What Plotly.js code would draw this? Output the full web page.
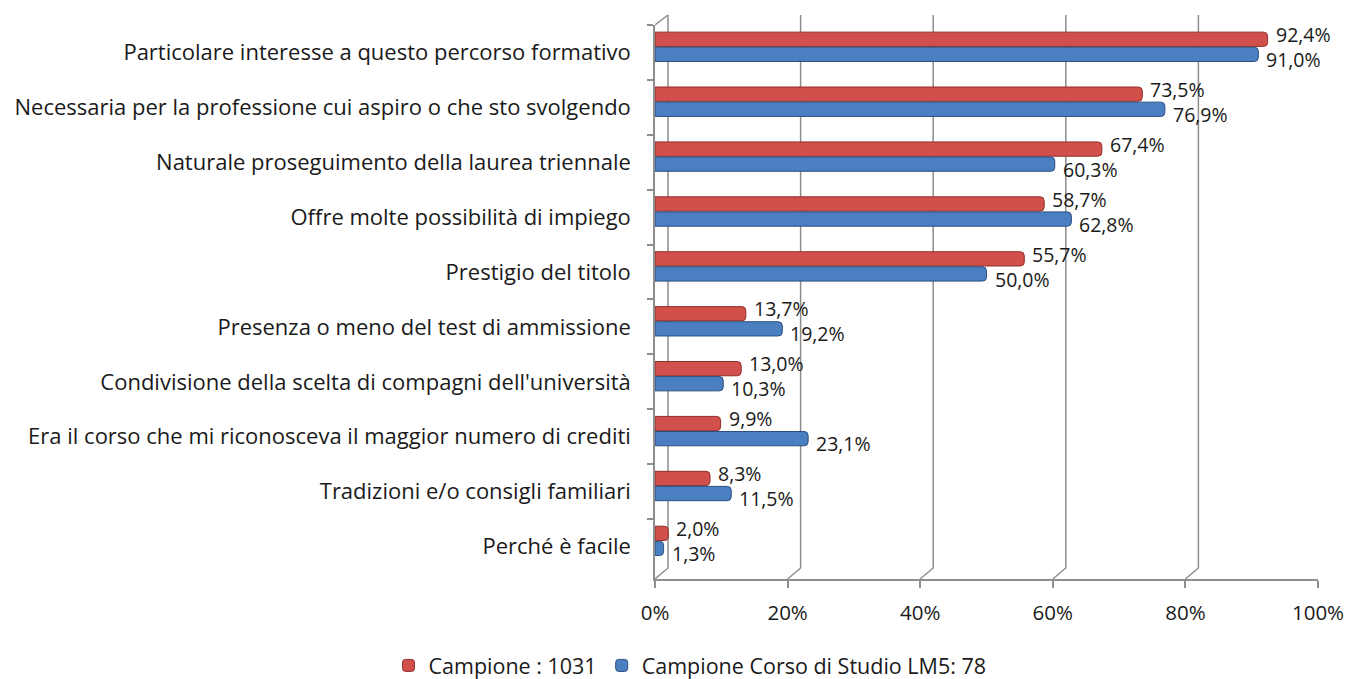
<!DOCTYPE html>
<html>
<head>
<meta charset="utf-8">
<script src="https://cdn.plot.ly/plotly-3.0.1.min.js"></script>
<style>
  html, body { margin: 0; padding: 0; background: #fff; }
  #chart { width: 1346px; height: 679px; }
</style>
</head>
<body>
<div id="chart"></div>
<script>
/* Motivazioni della scelta — barre orizzontali, due campioni */

const categories = [
  'Particolare interesse a questo percorso formativo',
  'Necessaria per la professione cui aspiro o che sto svolgendo',
  'Naturale proseguimento della laurea triennale',
  'Offre molte possibilità di impiego',
  'Prestigio del titolo',
  'Presenza o meno del test di ammissione',
  "Condivisione della scelta di compagni dell'università",
  'Era il corso che mi riconosceva il maggior numero di crediti',
  'Tradizioni e/o consigli familiari',
  'Perché è facile',
];

const campioneTotale = [92.4, 73.5, 67.4, 58.7, 55.7, 13.7, 13.0, 9.9, 8.3, 2.0];
const campioneLM5    = [91.0, 76.9, 60.3, 62.8, 50.0, 19.2, 10.3, 23.1, 11.5, 1.3];

const seriesNames = ['Campione : 1031', 'Campione Corso di Studio LM5: 78'];
const xTicks = [0, 20, 40, 60, 80, 100];
const xTickText = xTicks.map(t => t + '%');

const FONT = "'Open Sans', sans-serif";
const FS = 22;
const GRID = '#8e8e8e';
const TXT = '#1a1a1a';

const pct = v => v.toFixed(1).replace('.', ',') + '%';

const barTrace = (name, values, color, edge, offset) => ({
  type: 'bar',
  orientation: 'h',
  name,
  x: values,
  y: categories,
  width: 0.26,
  offset,
  marker: { color, line: { color: edge, width: 1 }, cornerradius: 4 },
  hoverinfo: 'skip',
});

const traces = [
  barTrace(seriesNames[0], campioneTotale, '#d2504c', '#8f2f2c', -0.37),
  barTrace(seriesNames[1], campioneLM5, '#4a7fc1', '#2c4f80', -0.095),
];

// etichette dei valori: rosse sopra, blu sotto
const valueLabels = (values, yshift) => values.map((v, i) => ({
  x: v, y: categories[i],
  xref: 'x', yref: 'y',
  text: pct(v),
  showarrow: false,
  xanchor: 'left', yanchor: 'middle',
  xshift: 7, yshift,
  borderpad: 0,
  font: { family: FONT, size: 19.5, color: TXT },
}));

// pareti "3D": linee di griglia sul fondo, con raccordo al pavimento
const gridShapes = xTicks.map(t => ({
  type: 'path',
  xref: 'x', xsizemode: 'pixel', xanchor: t,
  yref: 'paper', ysizemode: 'pixel', yanchor: 0,
  path: 'M0,0 L13,11 L13,564',
  line: { color: GRID, width: 1.5 },
  layer: 'below',
}));
gridShapes.push({
  type: 'path',
  xref: 'x', xsizemode: 'pixel', xanchor: xTicks[0],
  yref: 'paper', ysizemode: 'pixel', yanchor: 1,
  path: 'M0,0 L13,10',
  line: { color: GRID, width: 1.5 },
  layer: 'below',
});

Plotly.newPlot('chart', traces, {
  width: 1346,
  height: 679,
  paper_bgcolor: '#fff',
  plot_bgcolor: 'rgba(0,0,0,0)',
  font: { family: FONT, size: FS, color: TXT },
  margin: { t: 25, b: 100, l: 655, r: 28 },
  barmode: 'group',
  xaxis: {
    range: [0, 100],
    tickvals: xTicks,
    ticktext: xTickText,
    showgrid: false,
    zeroline: false,
    showline: true,
    linecolor: GRID,
    linewidth: 1.5,
    ticks: 'outside',
    ticklen: 7,
    tickcolor: GRID,
    tickwidth: 1.5,
    ticklabelstandoff: 8,
    tickfont: { family: FONT, size: 20.5, color: TXT },
  },
  yaxis: {
    autorange: 'reversed',
    showgrid: false,
    zeroline: false,
    showline: true,
    linecolor: GRID,
    linewidth: 1.5,
    ticks: 'outside',
    tickson: 'boundaries',
    ticklen: 6,
    tickcolor: GRID,
    tickwidth: 1.5,
    ticklabelstandoff: 18,
    tickfont: { family: FONT, size: FS, color: TXT },
  },
  shapes: gridShapes,
  annotations: [
    ...valueLabels(campioneTotale, 18),
    ...valueLabels(campioneLM5, -7),
  ],
  showlegend: true,
  legend: {
    orientation: 'h',
    xref: 'container', yref: 'container',
    x: 690 / 1346, xanchor: 'center',
    y: 0.02, yanchor: 'middle',
    font: { family: FONT, size: 21.5, color: TXT },
    traceorder: 'normal',
  },
}, { displayModeBar: false });
</script>
</body>
</html>
